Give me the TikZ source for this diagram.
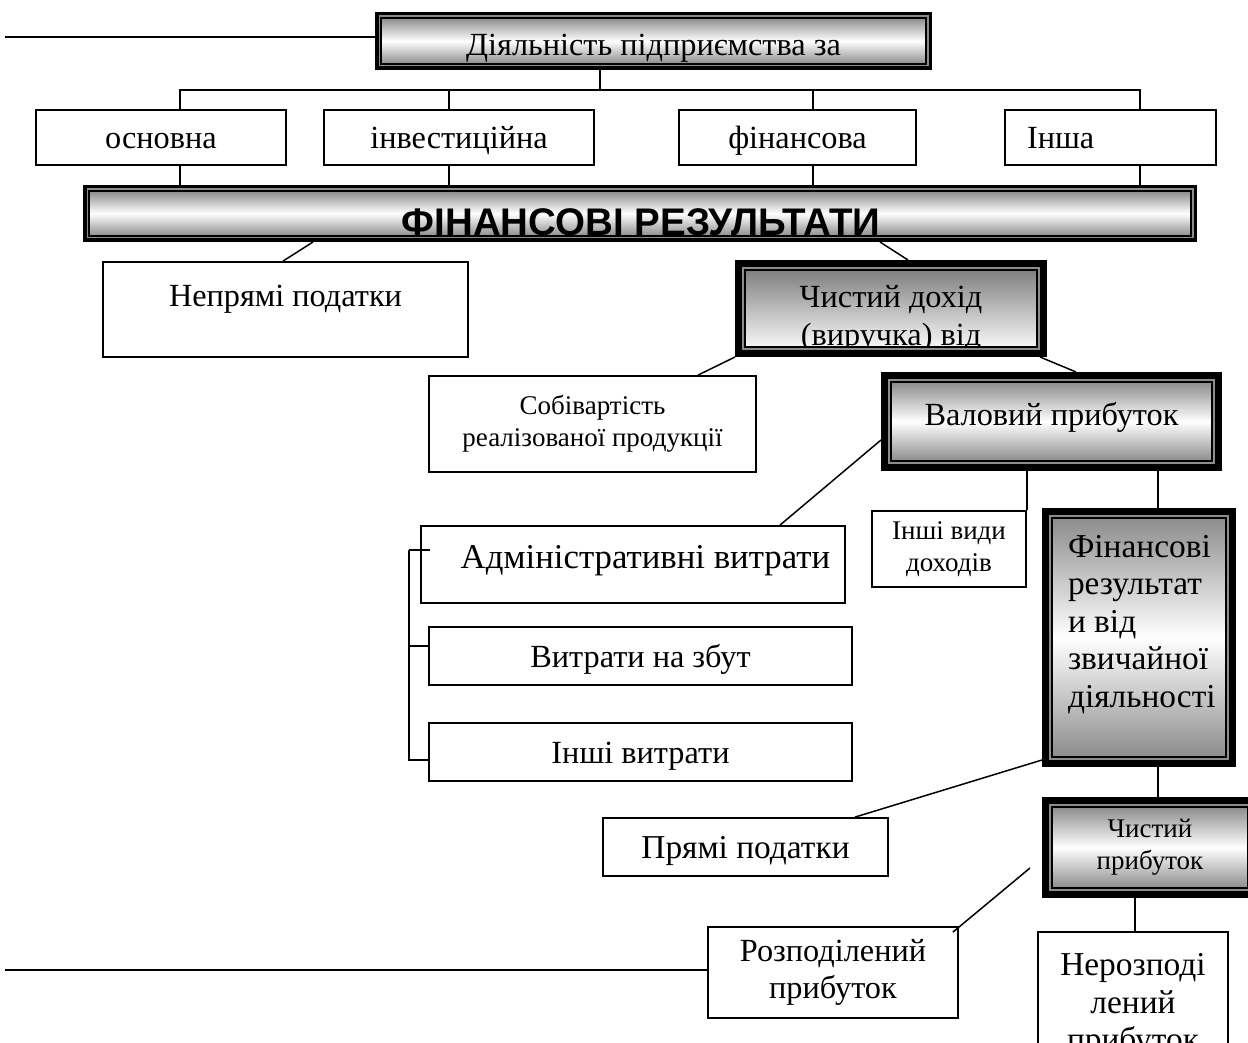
\documentclass[tikz,border=0pt]{standalone}
\usepackage{fontspec}
\setmainfont{Liberation Serif}
\newfontfamily\sansfr{Liberation Sans}
\newcommand\myBig{\fontsize{32.3pt}{37.5pt}\selectfont}
\newcommand\myMid{\fontsize{33.4pt}{37.5pt}\selectfont}
\newcommand\mySmall{\fontsize{27pt}{32pt}\selectfont}
\newcommand\myFR{\sansfr\bfseries\fontsize{38.5pt}{40pt}\selectfont}
\usetikzlibrary{calc}
\begin{document}
\begin{tikzpicture}[x=1pt,y=-1pt,
  plain/.style={draw=black, line width=1.8pt, fill=white, inner sep=0pt, outer sep=0.9pt, font=\myBig, align=center},
  one/.style={text height=22pt, text depth=0pt},
  metal/.style={top color=black!45, bottom color=black!45, middle color=white},
  fade/.style={top color=black!50, bottom color=black!3},
  dframe/.style={draw=black, line width=1.2pt, inner sep=0pt, outer sep=6pt, font=\myBig,
    preaction={draw=black, line width=12pt}, preaction={draw=black!45, line width=5pt}},
  tframe/.style={draw=black, line width=1.5pt, inner sep=0pt, outer sep=10pt, font=\myBig, align=center,
    preaction={draw=black, line width=20pt}, preaction={draw=black!45, line width=6pt}},
  intext/.style={inner sep=0pt, outer sep=0pt, minimum width=0pt, minimum height=0pt},
  link/.style={draw=black, line width=1.5pt}]
\useasboundingbox (0,0) rectangle (1248,1043);
\clip (0,0) rectangle (1248,1043);
\fill[white] (0,0) rectangle (1248,1043);

% nodes
\node[dframe, metal, text height=30pt, text depth=0pt, minimum width=545pt, minimum height=46pt] (top) at (653.5,41) {Діяльність підприємства за};

\node[plain, one, minimum width=250pt, minimum height=55pt] (osn) at (161,137.5) {основна};
\node[plain, one, minimum width=270pt, minimum height=55pt] (inv) at (459,137.5) {інвестиційна};
\node[plain, one, minimum width=237pt, minimum height=55pt] (fin) at (797.5,137.5) {фінансова};
\node[plain, one, minimum width=211pt, minimum height=55pt, text width=167pt, align=left] (ins) at (1110.5,137.5) {Інша};

\node[dframe, metal, minimum width=1102pt, minimum height=45pt,
  path picture={\node[intext, anchor=base, font=\myFR] (frt) at ([shift={(1,22.5)}]path picture bounding box.center) {ФІНАНСОВІ РЕЗУЛЬТАТИ};}] (FR) at (640,213.5) {};

\node[plain, minimum width=365pt, minimum height=95pt, text height=22pt, text depth=29pt] (nep) at (285.5,309.5) {Непрямі податки};

\node[tframe, fade, minimum width=292pt, minimum height=77pt,
  path picture={\node[intext, anchor=base, font=\myBig] (cdt1) at ([shift={(0,-1.5)}]path picture bounding box.center) {Чистий дохід};
                \node[intext, anchor=base, font=\myBig] (cdt2) at ([shift={(0,36.5)}]path picture bounding box.center) {(виручка) від};}] (CD) at (891,308.5) {};

\node[plain, font=\mySmall, minimum width=327pt, minimum height=96pt] (sob) at (592.5,424) {Собівартість\\реалізованої продукції};

\node[tframe, metal, minimum width=321pt, minimum height=79pt, text height=22pt, text depth=15pt] (val) at (1051.5,421.5) {Валовий прибуток};

\node[plain, font=\fontsize{34.8pt}{37.5pt}\selectfont, minimum width=424pt, minimum height=77pt, text height=22pt, text depth=15pt] (adm) at (633,564.5) {\hspace*{25pt}Адміністративні витрати};
\node[plain, one, minimum width=423pt, minimum height=58pt] (vzb) at (640.5,656) {Витрати на збут};
\node[plain, one, minimum width=423pt, minimum height=58pt] (ish) at (640.5,752) {Інші витрати};

\node[plain, font=\mySmall, minimum width=154pt, minimum height=76pt] (ivd) at (949,549) {Інші види\\доходів};

\node[tframe, metal, minimum width=174pt, minimum height=239pt,
  path picture={\node[intext, anchor=north west, font=\myMid, align=left] (frzt) at ([shift={(-71,-102.5)}]path picture bounding box.center) {Фінансові\\результат\\и від\\звичайної\\діяльності};}] (frz) at (1139,637.5) {};

\node[plain, one, font=\myMid, minimum width=285pt, minimum height=58pt] (pr) at (745.5,847) {Прямі податки};

\node[tframe, metal, font=\mySmall, minimum width=196pt, minimum height=81pt] (cp) at (1150,847.5) {Чистий\\прибуток};

\node[plain, minimum width=250pt, minimum height=91pt] (roz) at (833,972.5) {Розподілений\\прибуток};
\node[plain, font=\myMid, minimum width=190pt, minimum height=148pt] (nrz) at (1133,1006) {Нерозподі\\лений\\прибуток};

% connectors
\coordinate (tfree) at (5,37);
\draw[link] (tfree) -- (top.west |- tfree);
\coordinate (bar0) at (600,90);
\coordinate (bar1) at (180,90);
\coordinate (bar2) at (449,90);
\coordinate (bar3) at (813,90);
\coordinate (bar4) at (1140,90);
\draw[link] (top.south -| bar0) -- (bar0);
\draw[link] (osn.north -| bar1) -- (bar1) -- (bar4) -- (ins.north -| bar4);
\draw[link] (inv.north -| bar2) -- (bar2);
\draw[link] (fin.north -| bar3) -- (bar3);
\draw[link] (osn.south -| bar1) -- (FR.north -| bar1);
\draw[link] (inv.south -| bar2) -- (FR.north -| bar2);
\draw[link] (fin.south -| bar3) -- (FR.north -| bar3);
\draw[link] (ins.south -| bar4) -- (FR.north -| bar4);

\draw[link] (FR.south -| 313,0) -- (nep.north -| 283,0);
\draw[link] (FR.south -| 880,0) -- (CD.north -| 908,0);
\draw[link] (CD.south west) -- (sob.north -| 698,0);
\draw[link] (CD.south -| 1040,0) -- (val.north -| 1076,0);
\draw[link] (val.west |- 0,440) -- (adm.north -| 780,0);

\coordinate (bk1) at (409,550);
\draw[link] (bk1) -- ++(21,0);
\draw[link] (bk1) |- (ish.west |- 0,760);
\draw[link] (bk1 |- 0,646) -- (vzb.west |- 0,646);

\draw[link] (val.south -| ivd.north east) -- (ivd.north east);
\draw[link] (val.south -| 1158,0) -- (frz.north -| 1158,0);
\draw[link] (frz.west |- 0,760) -- (pr.north -| 855,0);
\draw[link] (frz.south -| 1158,0) -- (cp.north -| 1158,0);
\coordinate (cfree) at (1030,868);
\draw[link] (cfree) -- ([xshift=-6pt,yshift=-6pt]roz.north east);
\coordinate (lfree) at (5,970);
\draw[link] (lfree) -- (roz.west |- lfree);
\draw[link] (cp.south -| 1135,0) -- (nrz.north -| 1135,0);
\end{tikzpicture}
\end{document}
